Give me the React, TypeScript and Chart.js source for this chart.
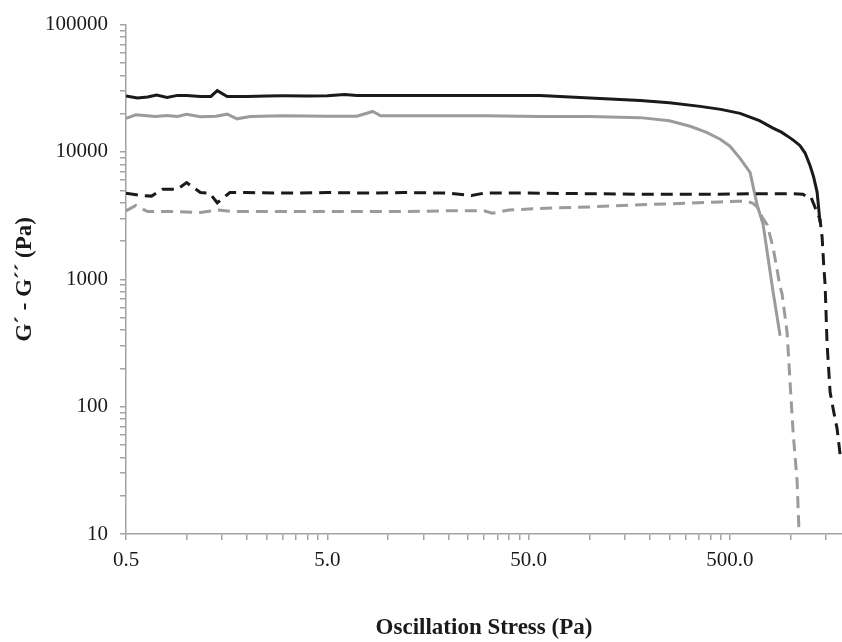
import React, { useEffect, useRef } from "react";
import { Chart, registerables } from "chart.js";

Chart.register(...registerables);

// ---- axis ticks ----
const xMajorTicks = [0.5, 5, 50, 500];
const xMajorLabels = ["0.5", "5.0", "50.0", "500.0"];
const xMinorTicks = [
  1, 1.5, 2, 2.5, 3, 3.5, 4, 4.5,
  10, 15, 20, 25, 30, 35, 40, 45,
  100, 150, 200, 250, 300, 350, 400, 450,
  1000, 1500,
];
const yMajorTicks = [10, 100, 1000, 10000, 100000];
const yMajorLabels = ["10", "100", "1000", "10000", "100000"];
const yMinorTicks = [
  20, 30, 40, 50, 60, 70, 80, 90,
  200, 300, 400, 500, 600, 700, 800, 900,
  2000, 3000, 4000, 5000, 6000, 7000, 8000, 9000,
  20000, 30000, 40000, 50000, 60000, 70000, 80000, 90000,
];

// ---- series: black solid (G′, sample A) ----
const blackSolidStress = [0.5, 0.57, 0.64, 0.71, 0.8, 0.9, 1.0, 1.17, 1.32, 1.42, 1.59, 2.0, 2.5, 3.0, 4.0, 5.0, 6.1, 7.0, 10, 15, 20, 30, 57, 80, 113, 179, 250, 355, 450, 561, 700, 818, 900, 994, 1050, 1114, 1180, 1250, 1300, 1354, 1400];
const blackSolidModulus = [27500, 26500, 27000, 28000, 26800, 27800, 27700, 27200, 27300, 30300, 27200, 27300, 27500, 27600, 27500, 27600, 28300, 27700, 27800, 27800, 27800, 27700, 27700, 27000, 26300, 25400, 24300, 22800, 21600, 20100, 17600, 15400, 14300, 12900, 12100, 11200, 9800, 7800, 6400, 4840, 2800];

// ---- series: black dashed (G″, sample A) ----
const blackDashedStress = [0.5, 0.6, 0.67, 0.76, 0.9, 1.0, 1.17, 1.3, 1.42, 1.64, 2.0, 3.0, 5.0, 8, 12, 20, 26, 30, 50, 100, 200, 400, 700, 1000, 1150, 1208, 1260, 1294, 1400, 1434, 1460, 1484, 1517, 1571, 1640, 1702, 1762];
const blackDashedModulus = [4750, 4550, 4500, 5100, 5100, 5750, 4800, 4750, 3990, 4800, 4800, 4750, 4800, 4750, 4800, 4750, 4550, 4750, 4750, 4700, 4650, 4650, 4700, 4700, 4650, 4450, 4450, 4000, 2950, 2140, 1300, 900, 316, 130, 90, 67, 42];

// ---- series: grey solid (G′, sample B) ----
const greySolidStress = [0.5, 0.56, 0.7, 0.8, 0.9, 1.0, 1.17, 1.4, 1.59, 1.78, 2.07, 3, 5, 7, 8.4, 9.2, 12, 20, 30, 57, 100, 179, 250, 317, 380, 447, 500, 561, 629, 682, 730, 818, 887];
const greySolidModulus = [18400, 19600, 19000, 19300, 19000, 19800, 18900, 19100, 19800, 18200, 19000, 19200, 19100, 19100, 20800, 19200, 19200, 19200, 19200, 19000, 19000, 18600, 17600, 15900, 14300, 12600, 11100, 8900, 6900, 3830, 2700, 800, 360];

// ---- series: grey dashed (G″, sample B) ----
const greyDashedStress = [0.5, 0.56, 0.64, 0.75, 0.9, 1.17, 1.42, 1.7, 2.0, 3, 5, 8, 12, 20, 30, 33, 40, 57, 100, 179, 300, 447, 550, 608, 650, 682, 720, 764, 818, 887, 907, 961, 994, 1029, 1077, 1102];
const greyDashedModulus = [3450, 3800, 3400, 3400, 3400, 3350, 3500, 3400, 3400, 3400, 3400, 3400, 3400, 3450, 3450, 3300, 3500, 3600, 3700, 3850, 3950, 4050, 4100, 4100, 3950, 3700, 3100, 2690, 1790, 870, 770, 380, 155, 63, 26, 10];

const pts = (xs: number[], ys: number[]) => xs.map((x, i) => ({ x, y: ys[i] }));

const FONT = '"Liberation Serif", "Times New Roman", serif';
const AXIS_GREY = "#a3a3a3";
const TEXT = "#1a1a1a";

export default function App() {
  const ref = useRef<HTMLCanvasElement | null>(null);

  useEffect(() => {
    if (!ref.current) return;
    const chart = new Chart(ref.current, {
      type: "line",
      data: {
        datasets: [
          {
            data: pts(blackSolidStress, blackSolidModulus),
            borderColor: "#1a1a1a",
            borderWidth: 3,
            pointRadius: 0,
            tension: 0,
          },
          {
            data: pts(blackDashedStress, blackDashedModulus),
            borderColor: "#1a1a1a",
            borderWidth: 3,
            borderDash: [12, 7],
            pointRadius: 0,
            tension: 0,
          },
          {
            data: pts(greySolidStress, greySolidModulus),
            borderColor: "#9b9b9b",
            borderWidth: 3,
            pointRadius: 0,
            tension: 0,
          },
          {
            data: pts(greyDashedStress, greyDashedModulus),
            borderColor: "#9b9b9b",
            borderWidth: 3,
            borderDash: [12, 7],
            pointRadius: 0,
            tension: 0,
          },
        ],
      },
      options: {
        animation: false,
        responsive: false,
        maintainAspectRatio: false,
        layout: { padding: { top: 17, right: 0, bottom: 0, left: 0 } },
        plugins: { legend: { display: false }, tooltip: { enabled: false } },
        scales: {
          x: {
            type: "logarithmic",
            min: 0.5,
            max: 1800,
            afterBuildTicks: (s: any) => {
              s.ticks = [...xMajorTicks, ...xMinorTicks]
                .sort((a, b) => a - b)
                .map((v) => ({ value: v }));
            },
            afterFit: (s: any) => {
              s.height = 108;
            },
            ticks: {
              autoSkip: false,
              maxRotation: 0,
              minRotation: 0,
              padding: 8,
              color: TEXT,
              font: { family: FONT, size: 21 },
              callback: (v: any) => {
                const i = xMajorTicks.indexOf(Number(v));
                return i >= 0 ? xMajorLabels[i] : "";
              },
            },
            grid: {
              drawOnChartArea: false,
              drawTicks: true,
              tickLength: 6,
              color: AXIS_GREY,
              lineWidth: 1.5,
            },
            border: { color: AXIS_GREY, width: 1.5 },
            title: {
              display: true,
              text: "Oscillation Stress (Pa)",
              color: TEXT,
              font: { family: FONT, size: 23, weight: "bold" },
              padding: { top: 0, bottom: 0 },
            },
          },
          y: {
            type: "logarithmic",
            min: 10,
            max: 100000,
            afterBuildTicks: (s: any) => {
              s.ticks = [...yMajorTicks, ...yMinorTicks]
                .sort((a, b) => a - b)
                .map((v) => ({ value: v }));
            },
            afterFit: (s: any) => {
              s.width = 126;
            },
            ticks: {
              autoSkip: false,
              padding: 12,
              color: TEXT,
              font: { family: FONT, size: 21 },
              callback: (v: any) => {
                const i = yMajorTicks.indexOf(Number(v));
                return i >= 0 ? yMajorLabels[i] : "";
              },
            },
            grid: {
              drawOnChartArea: false,
              drawTicks: true,
              tickLength: 6,
              color: AXIS_GREY,
              lineWidth: 1.5,
            },
            border: { color: AXIS_GREY, width: 1.5 },
            title: {
              display: true,
              text: "G\u00B4 - G\u00B4\u00B4 (Pa)",
              color: TEXT,
              font: { family: FONT, size: 23, weight: "bold" },
              padding: { top: 11, bottom: 0 },
            },
          },
        },
      } as any,
    });
    return () => chart.destroy();
  }, []);

  return (
    <div style={{ position: "fixed", left: 0, top: 0, width: 842, height: 642, background: "#fff" }}>
      <canvas ref={ref} width={842} height={642} style={{ width: 842, height: 642 }} />
    </div>
  );
}
